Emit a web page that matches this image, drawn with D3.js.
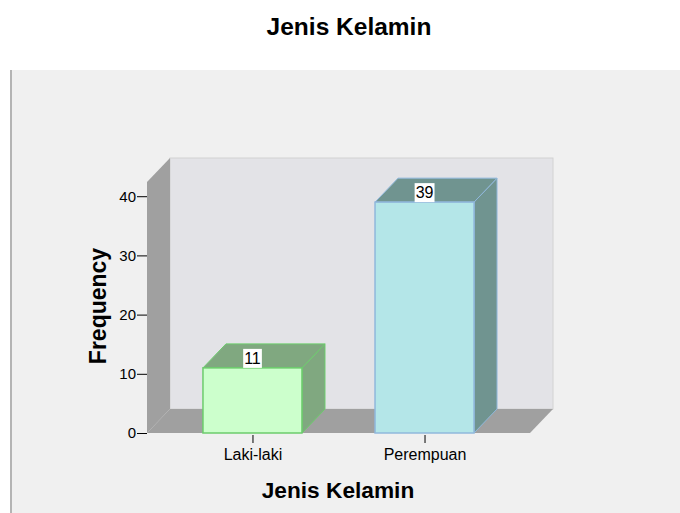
<!DOCTYPE html>
<html>
<head>
<meta charset="utf-8">
<script src="https://cdn.jsdelivr.net/npm/d3@7"></script>
<style>
  html, body { margin: 0; padding: 0; background: #ffffff; }
  svg { display: block; font-family: "Liberation Sans", Arial, sans-serif; }
</style>
</head>
<body>
<svg id="chart" width="680" height="513"></svg>
<script>
// Frequency of respondents by gender
const categories = ["Laki-laki", "Perempuan"];
const counts = [11, 39];
const yTicks = [0, 10, 20, 30, 40];
const chartTitle = "Jenis Kelamin";
const xTitle = "Jenis Kelamin";
const yTitle = "Frequency";

const frontFill = ["#ccffcc", "#b4e6e8"];
const darkFill = ["#80a880", "#709490"];
const edgeStroke = ["#6ccc6c", "#90b8dc"];

const W = 680, H = 513;
const svg = d3.select("#chart");

// 3D depth offset of the box
const DX = 23, DY = -24;
const plot = { left: 147, right: 530, bottom: 433, top: 182 };
const yMax = 42.4;

const y = d3.scaleLinear().domain([0, yMax]).range([plot.bottom, plot.top]);
const x = d3.scalePoint().domain(categories).range([plot.left, plot.right]).padding(0.613);
const barW = 99;

// outer panel
svg.append("rect").attr("x", 10).attr("y", 70).attr("width", W - 10).attr("height", H - 70)
  .attr("fill", "#f0f0f0");
svg.append("rect").attr("x", 10).attr("y", 70).attr("width", 2).attr("height", H - 70)
  .attr("fill", "#b4b4b4");

// title
svg.append("text").attr("x", 349).attr("y", 35).attr("text-anchor", "middle")
  .attr("font-size", 24.5).attr("font-weight", "bold").attr("fill", "#000").text(chartTitle);

const poly = pts => pts.map(p => p.join(",")).join(" ");

// back wall
svg.append("rect")
  .attr("x", plot.left + DX).attr("y", plot.top + DY)
  .attr("width", plot.right - plot.left).attr("height", plot.bottom - plot.top)
  .attr("fill", "#e3e3e7").attr("stroke", "#d2d2d2").attr("stroke-width", 1);

// left wall
svg.append("polygon")
  .attr("points", poly([[plot.left, plot.bottom], [plot.left, plot.top],
    [plot.left + DX, plot.top + DY], [plot.left + DX, plot.bottom + DY]]))
  .attr("fill", "#a0a0a0");

// floor
svg.append("polygon")
  .attr("points", poly([[plot.left, plot.bottom], [plot.right, plot.bottom],
    [plot.right + DX, plot.bottom + DY], [plot.left + DX, plot.bottom + DY]]))
  .attr("fill", "#a0a0a0");

// bars
const bars = svg.append("g");
categories.forEach((c, i) => {
  const x0 = x(c) - barW / 2, x1 = x(c) + barW / 2;
  const yTop = y(counts[i]), yBot = y(0);
  const g = bars.append("g");
  // side face
  g.append("polygon")
    .attr("points", poly([[x1, yBot], [x1, yTop], [x1 + DX, yTop + DY], [x1 + DX, yBot + DY]]))
    .attr("fill", darkFill[i]).attr("stroke", edgeStroke[i]).attr("stroke-width", 1);
  // top face
  g.append("polygon")
    .attr("points", poly([[x0, yTop], [x1, yTop], [x1 + DX, yTop + DY], [x0 + DX, yTop + DY]]))
    .attr("fill", darkFill[i]).attr("stroke", edgeStroke[i]).attr("stroke-width", 1);
  // front face
  g.append("rect").attr("x", x0).attr("y", yTop).attr("width", barW).attr("height", yBot - yTop)
    .attr("fill", frontFill[i]).attr("stroke", edgeStroke[i]).attr("stroke-width", 1.5);
});

// value labels
categories.forEach((c, i) => {
  const t = svg.append("text").attr("x", x(c)).attr("y", y(counts[i]) - 4)
    .attr("text-anchor", "middle").attr("font-size", 16).attr("fill", "#000").text(counts[i]);
  const bb = t.node().getBBox();
  svg.insert("rect", () => t.node())
    .attr("x", bb.x - 1).attr("y", y(counts[i]) - 19).attr("width", bb.width + 2).attr("height", 19)
    .attr("fill", "#ffffff");
});

// y axis
const yAxis = d3.axisLeft(y).tickValues(yTicks).tickSize(10).tickPadding(1).tickFormat(d3.format("d"));
const gy = svg.append("g").attr("transform", `translate(${plot.left},0)`).call(yAxis);
gy.select(".domain").remove();
gy.selectAll("line").attr("stroke", "#000");
gy.selectAll("text").attr("font-size", 15).attr("font-family", "Liberation Sans, Arial, sans-serif").attr("fill", "#000");

// x axis
const xAxis = d3.axisBottom(x).tickSize(8).tickPadding(6);
const gx = svg.append("g").attr("transform", `translate(0,${plot.bottom + 2})`).call(xAxis);
gx.select(".domain").remove();
gx.selectAll("line").attr("stroke", "#000");
gx.selectAll("text").attr("font-size", 16).attr("font-family", "Liberation Sans, Arial, sans-serif").attr("fill", "#000");

// axis titles
svg.append("text").attr("x", 338).attr("y", 498).attr("text-anchor", "middle")
  .attr("font-size", 22.7).attr("font-weight", "bold").attr("fill", "#000").text(xTitle);
svg.append("text").attr("transform", "translate(106,306) rotate(-90)").attr("text-anchor", "middle")
  .attr("font-size", 23).attr("font-weight", "bold").attr("fill", "#000").text(yTitle);
</script>
</body>
</html>
